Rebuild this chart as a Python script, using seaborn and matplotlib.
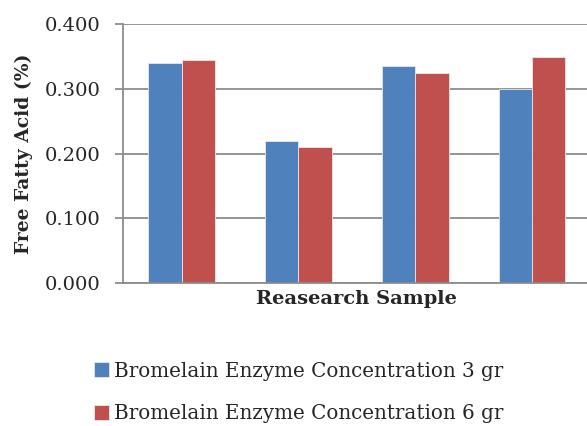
import pandas as pd
import matplotlib.pyplot as plt
import seaborn as sns
from matplotlib.ticker import FormatStrFormatter

samples = ['1', '2', '3', '4']
conc_3gr = [0.340, 0.220, 0.335, 0.300]
conc_6gr = [0.345, 0.210, 0.325, 0.350]
series_names = ['Bromelain Enzyme Concentration 3 gr',
                'Bromelain Enzyme Concentration 6 gr']

df = pd.DataFrame({
    'Sample': samples * 2,
    'FFA': conc_3gr + conc_6gr,
    'Series': [series_names[0]] * 4 + [series_names[1]] * 4,
})

sns.set_style('white')
plt.rcParams['font.family'] = ['DejaVu Serif']

fig = plt.figure(figsize=(5.87, 4.26), dpi=100)
ax = fig.add_axes([0.21, 0.336, 0.796, 0.607])

sns.barplot(data=df, x='Sample', y='FFA', hue='Series',
            palette=['#4F81BD', '#C0504D'], saturation=1, width=0.57,
            edgecolor='#e8e8e8', linewidth=0.6, ax=ax, legend=True)

ax.set_xlim(-0.5, 3.5)
ax.set_ylim(0, 0.4)
ax.set_yticks([0, 0.1, 0.2, 0.3, 0.4])
ax.yaxis.set_major_formatter(FormatStrFormatter('%.3f'))
ax.grid(axis='y', color='#8c8c8c', linewidth=1.3)
ax.set_axisbelow(True)
ax.set_xticks([])
for side in ['top', 'right']:
    ax.spines[side].set_visible(False)
for side in ['left', 'bottom']:
    ax.spines[side].set_color('#8c8c8c')
    ax.spines[side].set_linewidth(1.3)
ax.tick_params(axis='y', left=True, length=5.5, color='#8c8c8c',
               width=1.3, labelsize=14, pad=11)
ax.set_xlabel('Reasearch Sample', fontsize=14, fontweight='bold', labelpad=5)
ax.set_ylabel('Free Fatty Acid (%)', fontsize=13.5, fontweight='bold', labelpad=8)

handles, labels = ax.get_legend_handles_labels()
ax.legend(handles, labels, loc='upper left', bbox_to_anchor=(-0.1, -0.235),
          frameon=False, fontsize=14.3, handlelength=0.75, handleheight=0.75,
          handletextpad=0.25, labelspacing=1.2)

plt.savefig('out.png', dpi=100)
